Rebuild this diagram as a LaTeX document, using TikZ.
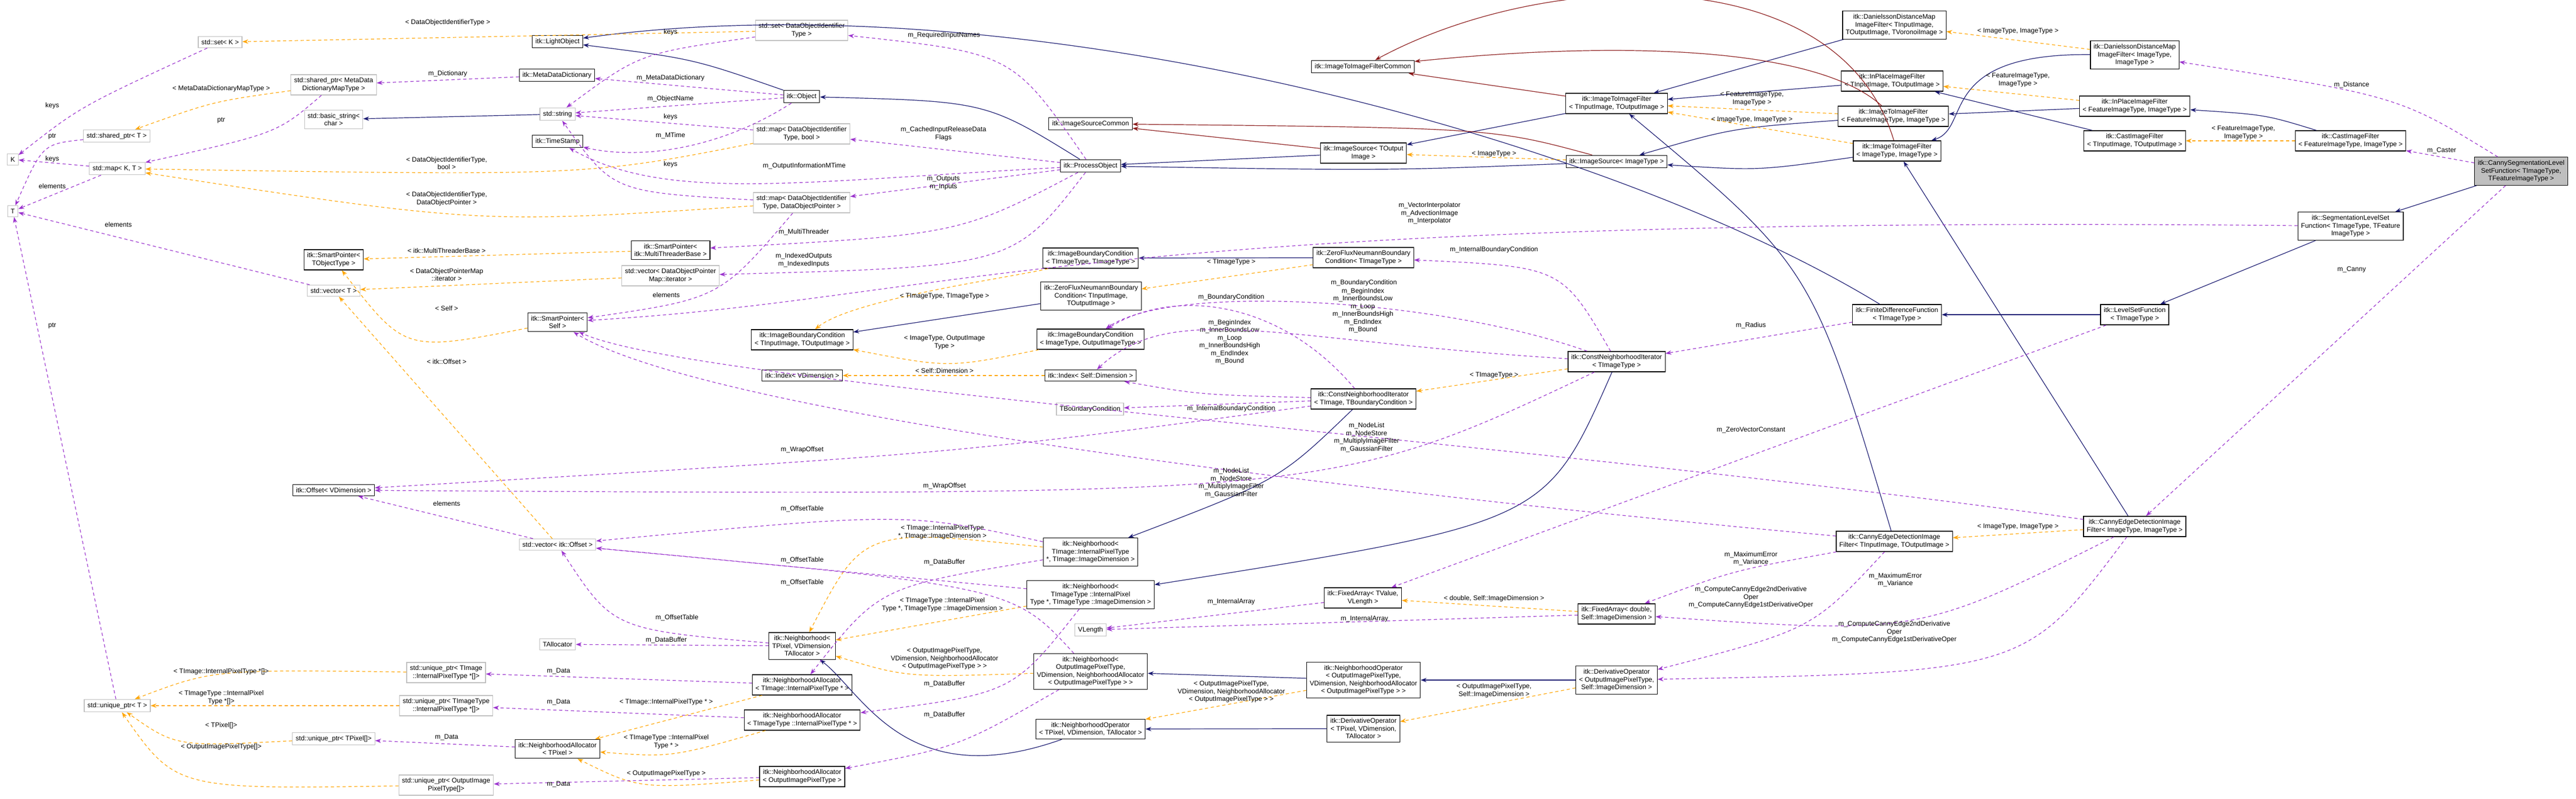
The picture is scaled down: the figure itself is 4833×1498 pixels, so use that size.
\documentclass[tikz,border=0pt]{standalone}
\usepackage{fontspec}
\setmainfont{Liberation Sans}
\usetikzlibrary{arrows.meta}
\definecolor{inhblue}{HTML}{191970}
\definecolor{privred}{HTML}{8B1A1A}
\definecolor{usepurple}{HTML}{9A32CD}
\definecolor{tplorange}{HTML}{FFA500}
\definecolor{extgray}{HTML}{BFBFBF}
\tikzset {
  % class boxes
  cls/.style = {
    draw = black,
    fill = white,
    line width = 1.2pt,
    rectangle,
    align = center,
    inner xsep = 6pt,
    inner ysep = 6pt,
    font = \fontsize{12.5}{14.5}\selectfont
  },
  % classes outside the documented set
  ext/.style = {
    cls,
    draw = extgray
  },
  % the class this graph is about
  main/.style = {
    cls,
    fill = extgray
  },
  lbl/.style = {
    align = center,
    font = \fontsize{12.5}{14.5}\selectfont
  }
}
\tikzset {
  link/.style = {
    line width = 1.2pt,
    -{Stealth[length=11pt,width=8pt]}
  },
  % public inheritance
  inh/.style = {
    link,
    draw = inhblue
  },
  % protected inheritance
  priv/.style = {
    link,
    draw = privred
  },
  % usage by member
  use/.style = {
    link,
    draw = usepurple,
    dash pattern = on 6pt off 5pt
  },
  % template instance
  tpl/.style = {
    link,
    draw = tplorange,
    dash pattern = on 6pt off 5pt
  }
}
\begin{document}
\begin{tikzpicture}[x=1pt,y=-1pt]
    \useasboundingbox (0,0) rectangle (4833,1498);

    % std and base classes
    \node[ext] (set-k) at (413,79) {std::set< K >};
    \node[cls] (light-object) at (1046,78) {itk::LightObject};
    \node[cls] (meta-dict) at (1045,141) {itk::MetaDataDictionary};
    \node[ext] (shared-meta) at (626,159) {std::shared\_ptr< MetaData\\DictionaryMapType >};
    \node[ext] (basic-string) at (626,224) {std::basic\_string<\\char >};
    \node[ext] (string) at (1046,214) {std::string};
    \node[ext] (shared-t) at (219,255) {std::shared\_ptr< T >};
    \node[ext] (k) at (24,299) {K};
    \node[cls] (time-stamp) at (1046,265) {itk::TimeStamp};
    \node[ext] (map-kt) at (220,316) {std::map< K, T >};
    \node[ext] (t) at (24,396) {T};
    \node[cls] (sp-tobj) at (626,487) {itk::SmartPointer<\\TObjectType >};
    \node[ext] (vector-t) at (626,545) {std::vector< T >};
    \node[cls] (sp-mt) at (1258,469) {itk::SmartPointer<\\itk::MultiThreaderBase >};
    \node[ext] (vector-dopm) at (1258,517) {std::vector< DataObjectPointer\\Map::iterator >};
    \node[cls] (sp-self) at (1046,604) {itk::SmartPointer<\\Self >};
    \node[ext] (set-doit) at (1504,57) {std::set< DataObjectIdentifier\\Type >};
    \node[cls] (object) at (1504,181) {itk::Object};
    \node[ext] (map-bool) at (1504,251) {std::map< DataObjectIdentifier\\Type, bool >};
    \node[ext] (map-dop) at (1504,380) {std::map< DataObjectIdentifier\\Type, DataObjectPointer >};
    \node[cls] (process-object) at (2046,311) {itk::ProcessObject};
    \node[cls] (source-common) at (2046,232) {itk::ImageSourceCommon};

    % boundary conditions and iterators
    \node[cls] (ibc-timagetype) at (2046,484) {itk::ImageBoundaryCondition\\< TImageType, TImageType >};
    \node[cls] (zfn-tinput) at (2047,555) {itk::ZeroFluxNeumannBoundary\\Condition< TInputImage,\\TOutputImage >};
    \node[cls] (ibc-tinput) at (1505,637) {itk::ImageBoundaryCondition\\< TInputImage, TOutputImage >};
    \node[cls] (ibc-imagetype) at (2046,636) {itk::ImageBoundaryCondition\\< ImageType, OutputImageType >};
    \node[cls] (index-vdim) at (1505,704) {itk::Index< VDimension >};
    \node[cls] (index-self) at (2046,704) {itk::Index< Self::Dimension >};
    \node[cls] (filter-common) at (2557,125) {itk::ImageToImageFilterCommon};
    \node[cls] (source-toutput) at (2558,287) {itk::ImageSource< TOutput\\Image >};
    \node[cls] (zfn-timagetype) at (2558,483) {itk::ZeroFluxNeumannBoundary\\Condition< TImageType >};
    \node[cls] (cni-tbc) at (2558,748) {itk::ConstNeighborhoodIterator\\< TImage, TBoundaryCondition >};
    \node[ext] (tboundary) at (2045,767) {TBoundaryCondition};

    % filters
    \node[cls] (dan-tinput) at (3554,47) {itk::DanielssonDistanceMap\\ImageFilter< TInputImage,\\TOutputImage, TVoronoiImage >};
    \node[cls] (i2i-tinput) at (3033,194) {itk::ImageToImageFilter\\< TInputImage, TOutputImage >};
    \node[cls] (inplace-tinput) at (3550,152) {itk::InPlaceImageFilter\\< TInputImage, TOutputImage >};
    \node[cls] (i2i-feature) at (3552,218) {itk::ImageToImageFilter\\< FeatureImageType, ImageType >};
    \node[cls] (i2i-image) at (3559,283) {itk::ImageToImageFilter\\< ImageType, ImageType >};
    \node[cls] (source-image) at (3033,303) {itk::ImageSource< ImageType >};
    \node[cls] (fdf) at (3559,590) {itk::FiniteDifferenceFunction\\< TImageType >};
    \node[cls] (cni-timagetype) at (3033,678) {itk::ConstNeighborhoodIterator\\< TImageType >};
    \node[cls] (dan-image) at (4005,103) {itk::DanielssonDistanceMap\\ImageFilter< ImageType,\\ImageType >};
    \node[cls] (inplace-feature) at (4005,199) {itk::InPlaceImageFilter\\< FeatureImageType, ImageType >};
    \node[cls] (cast-tinput) at (4005,264) {itk::CastImageFilter\\< TInputImage, TOutputImage >};
    \node[cls] (cast-feature) at (4410,264) {itk::CastImageFilter\\< FeatureImageType, ImageType >};
    \node[main] (canny-seg) at (4730,321) {itk::CannySegmentationLevel\\SetFunction< TImageType,\\TFeatureImageType >};
    \node[cls] (seg-lsf) at (4410,424) {itk::SegmentationLevelSet\\Function< TImageType, TFeature\\ImageType >};
    \node[cls] (lsf) at (4005,590) {itk::LevelSetFunction\\< TImageType >};
    \node[cls] (canny-image) at (4005,987) {itk::CannyEdgeDetectionImage\\Filter< ImageType, ImageType >};
    \node[cls] (canny-tinput) at (3554,1015) {itk::CannyEdgeDetectionImage\\Filter< TInputImage, TOutputImage >};

    % arrays, operators and neighborhoods
    \node[cls] (fa-tvalue) at (2557,1121) {itk::FixedArray< TValue,\\VLength >};
    \node[cls] (fa-double) at (3033,1151) {itk::FixedArray< double,\\Self::ImageDimension >};
    \node[cls] (nop-output) at (2558,1275) {itk::NeighborhoodOperator\\< OutputImagePixelType,\\VDimension, NeighborhoodAllocator\\< OutputImagePixelType > >};
    \node[cls] (dop-output) at (3033,1275) {itk::DerivativeOperator\\< OutputImagePixelType,\\Self::ImageDimension >};
    \node[cls] (dop-tpixel) at (2558,1366) {itk::DerivativeOperator\\< TPixel, VDimension,\\TAllocator >};
    \node[cls] (nb-timage) at (2046,1035) {itk::Neighborhood<\\TImage::InternalPixelType\\*, TImage::ImageDimension >};
    \node[cls] (nb-timagetype) at (2046,1115) {itk::Neighborhood<\\TImageType ::InternalPixel\\Type *, TImageType ::ImageDimension >};
    \node[ext] (vlength) at (2046,1181) {VLength};
    \node[cls] (nb-output) at (2046,1259) {itk::Neighborhood<\\OutputImagePixelType,\\VDimension, NeighborhoodAllocator\\< OutputImagePixelType > >};
    \node[cls] (nop-tpixel) at (2046,1367) {itk::NeighborhoodOperator\\< TPixel, VDimension, TAllocator >};
    \node[cls] (nb-tpixel) at (1505,1211) {itk::Neighborhood<\\TPixel, VDimension,\\TAllocator >};
    \node[cls] (na-timage) at (1505,1284) {itk::NeighborhoodAllocator\\< TImage::InternalPixelType * >};
    \node[cls] (na-timagetype) at (1505,1350) {itk::NeighborhoodAllocator\\< TImageType ::InternalPixelType * >};
    \node[cls] (na-output) at (1505,1456) {itk::NeighborhoodAllocator\\< OutputImagePixelType >};
    \node[cls] (offset-vdim) at (626,919) {itk::Offset< VDimension >};
    \node[ext] (vector-offset) at (1046,1021) {std::vector< itk::Offset >};
    \node[ext] (tallocator) at (1046,1208) {TAllocator};
    \node[ext] (unique-timage) at (837,1261) {std::unique\_ptr< TImage\\::InternalPixelType *[]>};
    \node[ext] (unique-timagetype) at (837,1323) {std::unique\_ptr< TImageType\\::InternalPixelType *[]>};
    \node[ext] (unique-t) at (220,1323) {std::unique\_ptr< T >};
    \node[ext] (unique-tpixel) at (626,1385) {std::unique\_ptr< TPixel[]>};
    \node[cls] (na-tpixel) at (1046,1404) {itk::NeighborhoodAllocator\\< TPixel >};
    \node[ext] (unique-output) at (837,1472) {std::unique\_ptr< OutputImage\\PixelType[]>};

    % inheritance
    \draw[inh] (object) .. controls (1300,110) .. (light-object);
    \draw[inh] (process-object) .. controls (1850,190) .. (object);
    \draw[inh] (source-toutput) -- (process-object);
    \draw[inh] (source-image) .. controls (2600,320) .. (process-object);
    \draw[inh] (i2i-tinput) -- (source-toutput);
    \draw[inh] (i2i-feature) .. controls (3250,240) .. (source-image);
    \draw[inh] (i2i-image) .. controls (3300,320) .. (source-image);
    \draw[inh] (inplace-tinput) -- (i2i-tinput);
    \draw[inh] (dan-tinput) -- (i2i-tinput);
    \draw[inh] (inplace-feature) -- (i2i-feature);
    \draw[inh] (cast-feature) .. controls (4250,215) .. (inplace-feature);
    \draw[inh] (cast-tinput) -- (inplace-tinput);
    \draw[inh] (dan-image) .. controls (3630,100) and (3700,240) .. (i2i-image);
    \draw[inh] (canny-seg) -- (seg-lsf);
    \draw[inh] (seg-lsf) -- (lsf);
    \draw[inh] (lsf) -- (fdf);
    \draw[inh] (fdf) .. controls (3000,250) and (1900,-40) .. (light-object);
    \draw[inh] (canny-tinput) .. controls (3400,500) .. (i2i-tinput);
    \draw[inh] (canny-image) -- (i2i-image);
    \draw[inh] (cni-tbc) .. controls (2400,900) .. (nb-timage);
    \draw[inh] (cni-timagetype) .. controls (2900,980) .. (nb-timagetype);
    \draw[inh] (nop-output) -- (nb-output);
    \draw[inh] (dop-output) -- (nop-output);
    \draw[inh] (dop-tpixel) -- (nop-tpixel);
    \draw[inh] (nop-tpixel) .. controls (1700,1490) and (1620,1300) .. (nb-tpixel);
    \draw[inh] (zfn-timagetype) -- (ibc-timagetype);
    \draw[inh] (zfn-tinput) -- (ibc-tinput);
    \draw[inh] (string) -- (basic-string);
    \draw[priv] (i2i-tinput) -- (filter-common);
    \draw[priv] (i2i-image) .. controls (3450,-80) and (2900,-60) .. (filter-common);
    \draw[priv] (i2i-feature) .. controls (3400,80) and (3000,80) .. (filter-common);
    \draw[priv] (source-toutput) -- (source-common);
    \draw[priv] (source-image) .. controls (2800,240) .. (source-common);

    % template instances
    \draw[tpl] (set-doit) -- (set-k) node[lbl] at (840,42) {< DataObjectIdentifierType >};
    \draw[tpl] (shared-meta) .. controls (400,190) .. (shared-t) node[lbl] at (415,166) {< MetaDataDictionaryMapType >};
    \draw[tpl] (map-bool) .. controls (1100,330) .. (map-kt) node[lbl] at (838,306) {< DataObjectIdentifierType,\\bool >};
    \draw[tpl] (map-dop) .. controls (900,420) .. (map-kt) node[lbl] at (838,373) {< DataObjectIdentifierType,\\DataObjectPointer >};
    \draw[tpl] (sp-mt) -- (sp-tobj) node[lbl] at (838,470) {< itk::MultiThreaderBase >};
    \draw[tpl] (vector-dopm) -- (vector-t) node[lbl] at (838,515) {< DataObjectPointerMap\\::iterator >};
    \draw[tpl] (sp-self) .. controls (760,660) .. (sp-tobj) node[lbl] at (838,578) {< Self >};
    \draw[tpl] (vector-offset) -- (vector-t) node[lbl] at (838,678) {< itk::Offset >};
    \draw[tpl] (unique-timage) .. controls (400,1255) .. (unique-t) node[lbl] at (415,1259) {< TImage::InternalPixelType *[]>};
    \draw[tpl] (unique-timagetype) -- (unique-t) node[lbl] at (415,1308) {< TImageType ::InternalPixel\\Type *[]>};
    \draw[tpl] (unique-tpixel) .. controls (330,1400) .. (unique-t) node[lbl] at (415,1360) {< TPixel[]>};
    \draw[tpl] (unique-output) .. controls (330,1480) .. (unique-t) node[lbl] at (415,1400) {< OutputImagePixelType[]>};
    \draw[tpl] (na-timage) -- (na-tpixel) node[lbl] at (1250,1316) {< TImage::InternalPixelType * >};
    \draw[tpl] (na-timagetype) .. controls (1260,1420) .. (na-tpixel) node[lbl] at (1250,1391) {< TImageType ::InternalPixel\\Type * >};
    \draw[tpl] (na-output) .. controls (1200,1480) .. (na-tpixel) node[lbl] at (1250,1450) {< OutputImagePixelType >};
    \draw[tpl] (nb-timage) .. controls (1620,990) .. (nb-tpixel) node[lbl] at (1768,998) {< TImage::InternalPixelType\\*, TImage::ImageDimension >};
    \draw[tpl] (nb-timagetype) -- (nb-tpixel) node[lbl] at (1768,1134) {< TImageType ::InternalPixel\\Type *, TImageType ::ImageDimension >};
    \draw[tpl] (nb-output) .. controls (1700,1270) .. (nb-tpixel) node[lbl] at (1772,1235) {< OutputImagePixelType,\\VDimension, NeighborhoodAllocator\\< OutputImagePixelType > >};
    \draw[tpl] (nop-output) -- (nop-tpixel) node[lbl] at (2310,1297) {< OutputImagePixelType,\\VDimension, NeighborhoodAllocator\\< OutputImagePixelType > >};
    \draw[tpl] (dop-output) -- (dop-tpixel) node[lbl] at (2803,1295) {< OutputImagePixelType,\\Self::ImageDimension >};
    \draw[tpl] (fa-double) -- (fa-tvalue) node[lbl] at (2803,1122) {< double, Self::ImageDimension >};
    \draw[tpl] (cni-timagetype) -- (cni-tbc) node[lbl] at (2803,703) {< TImageType >};
    \draw[tpl] (ibc-imagetype) .. controls (1780,690) .. (ibc-tinput) node[lbl] at (1772,642) {< ImageType, OutputImage\\Type >};
    \draw[tpl] (ibc-timagetype) .. controls (1900,520) and (1600,560) .. (ibc-tinput) node[lbl] at (1772,555) {< TImageType, TImageType >};
    \draw[tpl] (zfn-timagetype) -- (zfn-tinput) node[lbl] at (2310,491) {< TImageType >};
    \draw[tpl] (index-self) -- (index-vdim) node[lbl] at (1772,695) {< Self::Dimension >};
    \draw[tpl] (source-image) -- (source-toutput) node[lbl] at (2803,288) {< ImageType >};
    \draw[tpl] (i2i-feature) -- (i2i-tinput) node[lbl] at (3287,185) {< FeatureImageType,\\ImageType >};
    \draw[tpl] (i2i-image) -- (i2i-tinput) node[lbl] at (3287,224) {< ImageType, ImageType >};
    \draw[tpl] (dan-image) -- (dan-tinput) node[lbl] at (3786,58) {< ImageType, ImageType >};
    \draw[tpl] (inplace-feature) -- (inplace-tinput) node[lbl] at (3786,150) {< FeatureImageType,\\ImageType >};
    \draw[tpl] (cast-feature) -- (cast-tinput) node[lbl] at (4209,249) {< FeatureImageType,\\ImageType >};
    \draw[tpl] (canny-image) -- (canny-tinput) node[lbl] at (3786,987) {< ImageType, ImageType >};

    % members
    \draw[use] (set-k) .. controls (150,200) .. (k) node[lbl] at (98,198) {keys};
    \draw[use] (shared-t) .. controls (80,270) .. (t) node[lbl] at (98,256) {ptr};
    \draw[use] (map-kt) -- (k) node[lbl] at (98,298) {keys};
    \draw[use] (map-kt) -- (t) node[lbl] at (98,349) {elements};
    \draw[use] (vector-t) -- (t) node[lbl] at (222,421) {elements};
    \draw[use] (unique-t) -- (t) node[lbl] at (98,611) {ptr};
    \draw[use] (shared-meta) .. controls (520,250) .. (map-kt) node[lbl] at (415,226) {ptr};
    \draw[use] (meta-dict) -- (shared-meta) node[lbl] at (840,138) {m\_Dictionary};
    \draw[use] (object) -- (meta-dict) node[lbl] at (1258,146) {m\_MetaDataDictionary};
    \draw[use] (object) -- (string) node[lbl] at (1258,185) {m\_ObjectName};
    \draw[use] (object) .. controls (1350,280) and (1200,300) .. (time-stamp) node[lbl] at (1258,254) {m\_MTime};
    \draw[use] (set-doit) .. controls (1200,100) .. (string) node[lbl] at (1258,60) {keys};
    \draw[use] (map-bool) -- (string) node[lbl] at (1258,219) {keys};
    \draw[use] (map-dop) .. controls (1150,360) .. (string) node[lbl] at (1258,308) {keys};
    \draw[use] (process-object) .. controls (1900,100) .. (set-doit) node[lbl] at (1771,66) {m\_RequiredInputNames};
    \draw[use] (process-object) -- (map-bool) node[lbl] at (1770,251) {m\_CachedInputReleaseData\\Flags};
    \draw[use] (process-object) .. controls (1500,340) and (1250,380) .. (time-stamp) node[lbl] at (1509,311) {m\_OutputInformationMTime};
    \draw[use] (process-object) -- (map-dop) node[lbl] at (1770,343) {m\_Outputs\\m\_Inputs};
    \draw[use] (process-object) .. controls (1800,440) .. (sp-mt) node[lbl] at (1508,435) {m\_MultiThreader};
    \draw[use] (process-object) .. controls (1900,500) .. (vector-dopm) node[lbl] at (1508,488) {m\_IndexedOutputs\\m\_IndexedInputs};
    \draw[use] (map-dop) .. controls (1350,560) .. (sp-self) node[lbl] at (1250,553) {elements};
    \draw[use] (seg-lsf) .. controls (2000,400) and (1800,560) .. (sp-self) node[lbl] at (2682,400) {m\_VectorInterpolator\\m\_AdvectionImage\\m\_Interpolator};
    \draw[use] (canny-tinput) .. controls (2300,900) and (1300,760) .. (sp-self) node[lbl] at (2310,905) {m\_NodeList\\m\_NodeStore\\m\_MultiplyImageFilter\\m\_GaussianFilter};
    \draw[use] (canny-image) .. controls (2800,820) and (1300,720) .. (sp-self) node[lbl] at (2564,820) {m\_NodeList\\m\_NodeStore\\m\_MultiplyImageFilter\\m\_GaussianFilter};
    \draw[use] (cni-tbc) .. controls (1800,850) .. (offset-vdim) node[lbl] at (1505,843) {m\_WrapOffset};
    \draw[use] (cni-timagetype) .. controls (2500,930) .. (offset-vdim) node[lbl] at (1772,911) {m\_WrapOffset};
    \draw[use] (nb-timage) .. controls (1700,960) .. (vector-offset) node[lbl] at (1505,954) {m\_OffsetTable};
    \draw[use] (nb-timagetype) -- (vector-offset) node[lbl] at (1505,1050) {m\_OffsetTable};
    \draw[use] (nb-output) .. controls (1900,1100) .. (vector-offset) node[lbl] at (1505,1092) {m\_OffsetTable};
    \draw[use] (nb-tpixel) .. controls (1150,1180) .. (vector-offset) node[lbl] at (1270,1158) {m\_OffsetTable};
    \draw[use] (vector-offset) -- (offset-vdim) node[lbl] at (838,944) {elements};
    \draw[use] (nb-tpixel) -- (tallocator) node[lbl] at (1250,1200) {m\_DataBuffer};
    \draw[use] (nb-timage) .. controls (1650,1100) .. (na-timage) node[lbl] at (1772,1054) {m\_DataBuffer};
    \draw[use] (nb-timagetype) .. controls (1900,1300) .. (na-timagetype) node[lbl] at (1772,1282) {m\_DataBuffer};
    \draw[use] (nb-output) .. controls (1800,1400) .. (na-output) node[lbl] at (1772,1340) {m\_DataBuffer};
    \draw[use] (na-timage) -- (unique-timage) node[lbl] at (1048,1258) {m\_Data};
    \draw[use] (na-timagetype) -- (unique-timagetype) node[lbl] at (1048,1316) {m\_Data};
    \draw[use] (na-tpixel) -- (unique-tpixel) node[lbl] at (838,1382) {m\_Data};
    \draw[use] (na-output) -- (unique-output) node[lbl] at (1048,1470) {m\_Data};
    \draw[use] (cni-tbc) -- (tboundary) node[lbl] at (2310,766) {m\_InternalBoundaryCondition};
    \draw[use] (cni-tbc) .. controls (2400,560) and (2200,540) .. (ibc-imagetype) node[lbl] at (2310,557) {m\_BoundaryCondition};
    \draw[use] (cni-tbc) .. controls (2250,740) .. (index-self) node[lbl] at (2307,641) {m\_BeginIndex\\m\_InnerBoundsLow\\m\_Loop\\m\_InnerBoundsHigh\\m\_EndIndex\\m\_Bound};
    \draw[use] (cni-timagetype) .. controls (2700,560) and (2200,530) .. (ibc-imagetype) node[lbl] at (2559,530) {m\_BoundaryCondition};
    \draw[use] (cni-timagetype) .. controls (2400,640) and (2200,560) .. (index-self) node[lbl] at (2557,582) {m\_BeginIndex\\m\_InnerBoundsLow\\m\_Loop\\m\_InnerBoundsHigh\\m\_EndIndex\\m\_Bound};
    \draw[use] (cni-timagetype) .. controls (2930,500) .. (zfn-timagetype) node[lbl] at (2803,468) {m\_InternalBoundaryCondition};
    \draw[use] (fdf) -- (cni-timagetype) node[lbl] at (3285,610) {m\_Radius};
    \draw[use] (lsf) -- (fa-tvalue) node[lbl] at (3285,806) {m\_ZeroVectorConstant};
    \draw[use] (fa-double) -- (vlength) node[lbl] at (2560,1160) {m\_InternalArray};
    \draw[use] (fa-tvalue) -- (vlength) node[lbl] at (2310,1128) {m\_InternalArray};
    \draw[use] (canny-tinput) .. controls (3250,1070) .. (fa-double) node[lbl] at (3285,1047) {m\_MaximumError\\m\_Variance};
    \draw[use] (canny-tinput) .. controls (3400,1180) .. (dop-output) node[lbl] at (3285,1120) {m\_ComputeCannyEdge2ndDerivative\\Oper\\m\_ComputeCannyEdge1stDerivativeOper};
    \draw[use] (canny-image) .. controls (3600,1190) .. (fa-double) node[lbl] at (3556,1087) {m\_MaximumError\\m\_Variance};
    \draw[use] (canny-image) .. controls (3800,1260) .. (dop-output) node[lbl] at (3554,1185) {m\_ComputeCannyEdge2ndDerivative\\Oper\\m\_ComputeCannyEdge1stDerivativeOper};
    \draw[use] (canny-seg) .. controls (4500,180) .. (dan-image) node[lbl] at (4412,159) {m\_Distance};
    \draw[use] (canny-seg) -- (cast-feature) node[lbl] at (4581,282) {m\_Caster};
    \draw[use] (canny-seg) -- (canny-image) node[lbl] at (4412,505) {m\_Canny};
\end{tikzpicture}
\end{document}
